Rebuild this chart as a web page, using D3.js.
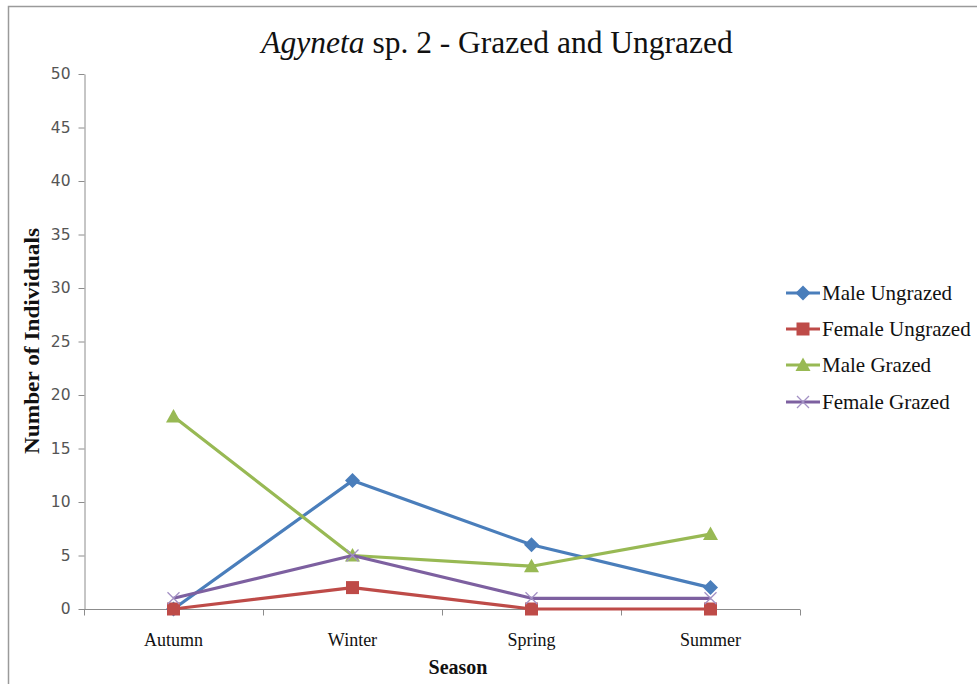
<!DOCTYPE html>
<html>
<head>
<meta charset="utf-8">
<script src="https://cdn.jsdelivr.net/npm/d3@7"></script>
<style>
  html, body { margin: 0; padding: 0; background: #fff; }
  svg { display: block; }
</style>
</head>
<body>
<svg id="chart" width="977" height="684"></svg>
<script>
// Seasons on the x axis and individual counts per series
const seasons = ["Autumn", "Winter", "Spring", "Summer"];
const maleUngrazed = [0, 12, 6, 2];
const femaleUngrazed = [0, 2, 0, 0];
const maleGrazed = [18, 5, 4, 7];
const femaleGrazed = [1, 5, 1, 1];
const yTicks = [0, 5, 10, 15, 20, 25, 30, 35, 40, 45, 50];

const seriesNames = ["Male Ungrazed", "Female Ungrazed", "Male Grazed", "Female Grazed"];
const seriesColors = ["#4A7EBB", "#BE4B48", "#98B954", "#7D60A0"];
const seriesMarkers = ["diamond", "square", "triangle", "cross"];
const seriesValues = [maleUngrazed, femaleUngrazed, maleGrazed, femaleGrazed];

const series = seriesNames.map((name, i) => ({
  name, color: seriesColors[i], marker: seriesMarkers[i], values: seriesValues[i]
}));

const svg = d3.select("#chart");
const serif = "'Liberation Serif', 'Times New Roman', serif";
const sans = "'DejaVu Sans', Verdana, sans-serif";

// Outer frame (left and top edges)
svg.append("path")
  .attr("d", "M8.5,684 V6.5 H977")
  .attr("fill", "none").attr("stroke", "#9a9a9a").attr("stroke-width", 1.5);

const plot = { left: 84, right: 800, top: 74, bottom: 609 };

const x = d3.scaleBand().domain(seasons).range([plot.left, plot.right]);
const y = d3.scaleLinear().domain([0, 50]).range([plot.bottom, plot.top]);

// Y axis
const yAxis = svg.append("g")
  .attr("transform", `translate(${plot.left + 0.5},0)`)
  .call(d3.axisLeft(y).tickValues(yTicks).tickSize(6).tickSizeOuter(0).tickPadding(8));
yAxis.select(".domain").attr("stroke", "#8c8c8c").attr("stroke-width", 1);
yAxis.selectAll(".tick line").attr("stroke", "#8c8c8c");
yAxis.selectAll(".tick text")
  .attr("font-family", sans).attr("font-size", 15.5).attr("fill", "#555");

// X axis with tick marks at category boundaries
const xg = svg.append("g").attr("transform", `translate(0,${plot.bottom + 0.5})`);
xg.append("line")
  .attr("x1", plot.left).attr("x2", plot.right)
  .attr("stroke", "#8c8c8c").attr("stroke-width", 1);
const boundaries = seasons.map(s => x(s) + x.bandwidth()).concat([x(seasons[0])]);
xg.selectAll("line.b").data(boundaries).join("line").attr("class", "b")
  .attr("x1", d => Math.round(d) + 0.5).attr("x2", d => Math.round(d) + 0.5)
  .attr("y1", 0).attr("y2", 6).attr("stroke", "#8c8c8c");
xg.selectAll("text").data(seasons).join("text")
  .attr("x", d => x(d) + x.bandwidth() / 2).attr("y", 36)
  .attr("text-anchor", "middle")
  .attr("font-family", serif).attr("font-size", 18).attr("fill", "#111")
  .text(d => d);

// Titles
const title = svg.append("text")
  .attr("x", 497).attr("y", 53).attr("text-anchor", "middle")
  .attr("font-family", serif).attr("font-size", 31.5).attr("fill", "#111");
title.append("tspan").attr("font-style", "italic").text("Agyneta");
title.append("tspan").text(" sp. 2 - Grazed and Ungrazed");

svg.append("text")
  .attr("x", 458).attr("y", 674).attr("text-anchor", "middle")
  .attr("font-family", serif).attr("font-weight", "bold").attr("font-size", 20)
  .attr("fill", "#111").text("Season");

svg.append("text")
  .attr("transform", "translate(39,341) rotate(-90)").attr("text-anchor", "middle")
  .attr("font-family", serif).attr("font-weight", "bold").attr("font-size", 20)
  .attr("textLength", 226).attr("lengthAdjust", "spacingAndGlyphs")
  .attr("fill", "#111").text("Number of Individuals");

// Marker drawing helper
function drawMarker(g, type, color, cx, cy) {
  if (type === "diamond") {
    g.append("path").attr("d", `M${cx},${cy - 7.5} L${cx + 7.5},${cy} L${cx},${cy + 7.5} L${cx - 7.5},${cy} Z`)
      .attr("fill", color);
  } else if (type === "square") {
    g.append("rect").attr("x", cx - 6.5).attr("y", cy - 6.5)
      .attr("width", 13).attr("height", 13).attr("fill", color);
  } else if (type === "triangle") {
    g.append("path").attr("d", `M${cx},${cy - 7.5} L${cx + 7.5},${cy + 6} L${cx - 7.5},${cy + 6} Z`)
      .attr("fill", color);
  } else if (type === "cross") {
    g.append("path").attr("d", `M${cx - 6},${cy - 6} L${cx + 6},${cy + 6} M${cx + 6},${cy - 6} L${cx - 6},${cy + 6}`)
      .attr("stroke", "#a391c4").attr("stroke-width", 1.3).attr("fill", "none");
  }
}

const line = d3.line()
  .x((d, i) => x(seasons[i]) + x.bandwidth() / 2)
  .y(d => y(d));

// Series lines and markers
series.forEach(s => {
  const g = svg.append("g");
  g.append("path").datum(s.values).attr("d", line)
    .attr("fill", "none").attr("stroke", s.color).attr("stroke-width", 3.2)
    .attr("stroke-linejoin", "round");
  s.values.forEach((v, i) => {
    drawMarker(g, s.marker, s.color, x(seasons[i]) + x.bandwidth() / 2, y(v));
  });
});

// Legend
const legendY = [293, 329, 365, 402];
series.forEach((s, i) => {
  const g = svg.append("g");
  const ly = legendY[i];
  g.append("line").attr("x1", 786).attr("x2", 820).attr("y1", ly).attr("y2", ly)
    .attr("stroke", s.color).attr("stroke-width", 3.2);
  drawMarker(g, s.marker, s.color, 803, ly);
  g.append("text").attr("x", 822).attr("y", ly + 7)
    .attr("font-family", serif).attr("font-size", 21).attr("fill", "#111")
    .text(s.name);
});
</script>
</body>
</html>
